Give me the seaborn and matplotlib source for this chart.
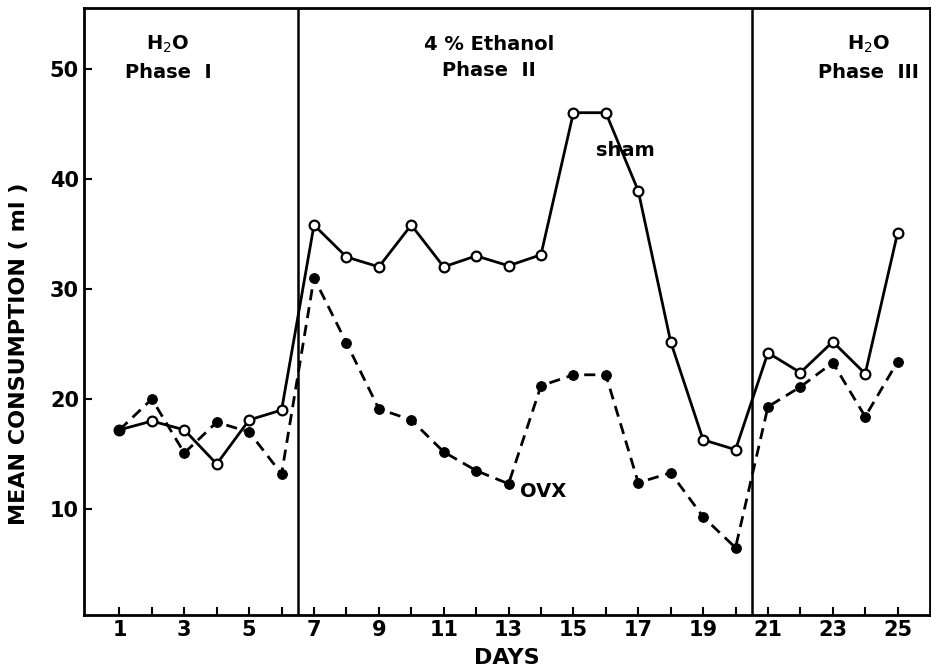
import matplotlib
matplotlib.use("Agg")
import matplotlib.pyplot as plt
from matplotlib import font_manager
import seaborn as sns
import pandas as pd

days = list(range(1, 26))
sham = [17.2, 18.0, 17.2, 14.1, 18.1, 19.0,
        35.8, 32.9, 32.0, 35.8, 32.0, 33.0, 32.1, 33.1, 46.0, 46.0, 38.9, 25.2, 16.3, 15.4,
        24.2, 22.4, 25.2, 22.3, 35.1]
ovx = [17.2, 20.0, 15.1, 17.9, 17.0, 13.2,
       31.0, 25.1, 19.1, 18.1, 15.2, 13.5, 12.3, 21.2, 22.2, 22.2, 12.4, 13.3, 9.3, 6.5,
       19.3, 21.1, 23.3, 18.4, 23.4]
phase_bounds = [6.5, 20.5]
phase_labels = ["H$_2$O\nPhase  I", "4 % Ethanol\nPhase  II", "H$_2$O\nPhase  III"]
phase_label_x = [2.5, 12.4, 24.1]
xtick_labels = [str(d) if d % 2 == 1 else "" for d in days]
ytick_vals = [10, 20, 30, 40, 50]

df = pd.DataFrame({"day": days, "sham": sham, "ovx": ovx})

sns.set_theme(style="ticks")
names = {f.name for f in font_manager.fontManager.ttflist}
fam = ["Liberation Sans Narrow", "DejaVu Sans"] if "Liberation Sans Narrow" in names else ["DejaVu Sans"]
plt.rcParams['font.family'] = fam
plt.rcParams['mathtext.fontset'] = 'custom'
plt.rcParams['mathtext.rm'] = fam[0]
plt.rcParams['mathtext.bf'] = fam[0] + ':bold'
plt.rcParams['text.color'] = 'black'
plt.rcParams['axes.labelcolor'] = 'black'
narrow = fam[0] == "Liberation Sans Narrow"
fs_scale = 1.15 if narrow else 1.0

fig = plt.figure(figsize=(9.31, 6.72), dpi=100)
ax = fig.add_axes([0.090, 0.085, 0.909, 0.903])

sns.lineplot(data=df, x="day", y="sham", ax=ax, color="black", linewidth=2,
             marker="o", markersize=7, markerfacecolor="white",
             markeredgecolor="black", markeredgewidth=1.6)
sns.lineplot(data=df, x="day", y="ovx", ax=ax, color="black", linewidth=2,
             linestyle=(0, (4, 2.5)), marker="o", markersize=7,
             markerfacecolor="black", markeredgecolor="black")

for b in phase_bounds:
    ax.axvline(b, color="black", linewidth=1.8)

ax.set_xlim(-0.1, 26.0)
ax.set_ylim(0.4, 55.5)
ax.set_xticks(days)
ax.set_xticklabels(xtick_labels)
ax.set_yticks(ytick_vals)
ax.tick_params(axis="both", direction="in", length=6, width=1.5,
               labelsize=15 * fs_scale, colors="black")
for lab in ax.get_xticklabels() + ax.get_yticklabels():
    lab.set_fontweight("bold")
for s in ax.spines.values():
    s.set_linewidth(2)
    s.set_color("black")

for txt, xp in zip(phase_labels, phase_label_x):
    ax.text(xp, 51.0, txt, ha="center", va="center", fontsize=14 * fs_scale,
            fontweight="bold", linespacing=1.5, color="black")

ax.text(16.6, 42.6, "sham", ha="center", va="center", fontsize=14 * fs_scale,
        fontweight="bold", color="black")
ax.text(13.35, 11.6, "OVX", ha="left", va="center", fontsize=14 * fs_scale,
        fontweight="bold", color="black")

ax.set_xlabel("DAYS", fontsize=16 * fs_scale, fontweight="bold", labelpad=6)
ax.set_ylabel("MEAN CONSUMPTION ( ml )", fontsize=16 * fs_scale, fontweight="bold")
ax.yaxis.set_label_coords(-0.065, 0.43)

fig.savefig("out.png", dpi=100)
